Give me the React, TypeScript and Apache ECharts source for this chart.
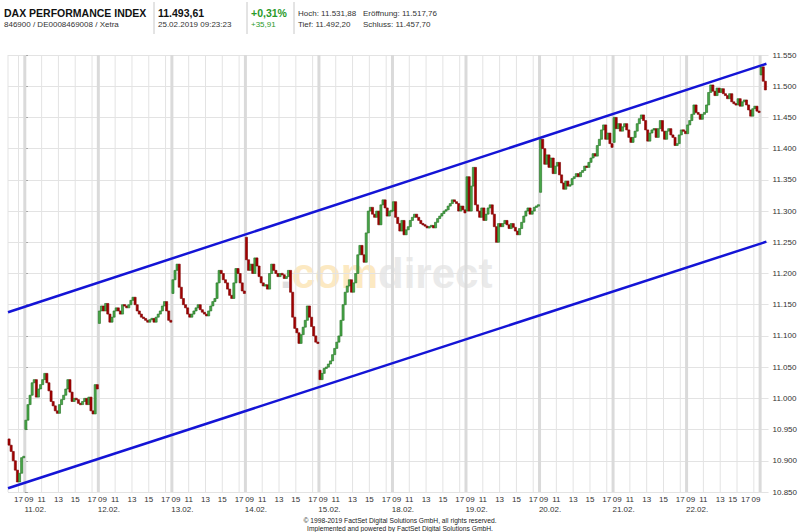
import React, { useEffect, useRef } from 'react';
import * as echarts from 'echarts';

const FONT = '"Liberation Sans", Arial, Helvetica, sans-serif';

// ---- axis setup (x in trading hours counted from 11.02. 09:00; one session slot = 09:00–17:45) ----
const DAY_LENGTH = 8.75;
const BAR_HOURS = 0.25;
const X_MIN = -2;
const X_MAX = 88.5;
const Y_MIN = 10850;
const Y_MAX = 11550;
const Y_STEP = 50;

const DAY_NAMES = ['08.02.', '11.02.', '12.02.', '13.02.', '14.02.', '15.02.', '18.02.', '19.02.', '20.02.', '21.02.', '22.02.', '25.02.'];
const DAY_STARTS = DAY_NAMES.map((_, i) => (i - 1) * DAY_LENGTH);
const HOUR_LABELS = ['09', '11', '13', '15', '17'];
const HOUR_LABEL_OFFSETS = [0.5, 2, 4, 6, 8];
const HOUR_GRID_OFFSETS = [2, 4, 6, 8];
const DATE_LABEL_OFFSET = 1.25;
const LABEL_LIMIT = 84;
const TAIL_LABELS: [number, string][] = [[84.25, '15'], [85.75, '17'], [87, '09']];

// ---- 15-minute price path per session (first value = open) ----
const P_0802 = [10935, 10925, 10915, 10900, 10885, 10866, 10880, 10905, 10907];
const P_1102 = [10950, 10965, 10990, 11005, 11025, 11030, 11002, 11015, 11022, 11030, 11040, 11025, 11012, 10995, 10988, 10980, 10976, 10990, 10998, 11005, 11015, 11030, 11010, 10995, 11000, 10998, 10992, 10990, 10995, 11000, 10990, 11002, 10980, 10975, 11022, 11015];
const P_1202 = [11120, 11140, 11148, 11140, 11152, 11135, 11122, 11130, 11140, 11145, 11140, 11135, 11150, 11148, 11145, 11150, 11157, 11162, 11150, 11140, 11135, 11130, 11128, 11125, 11122, 11126, 11128, 11122, 11130, 11135, 11140, 11148, 11155, 11140, 11125, 11122];
const P_1302 = [11168, 11190, 11205, 11215, 11178, 11160, 11150, 11145, 11135, 11130, 11135, 11140, 11145, 11150, 11142, 11138, 11135, 11132, 11140, 11148, 11155, 11160, 11185, 11205, 11200, 11190, 11185, 11175, 11165, 11160, 11185, 11208, 11200, 11185, 11172, 11168];
const P_1402 = [11258, 11222, 11205, 11215, 11200, 11225, 11212, 11195, 11185, 11180, 11182, 11175, 11200, 11215, 11205, 11200, 11195, 11200, 11198, 11192, 11195, 11205, 11170, 11130, 11112, 11105, 11088, 11102, 11114, 11125, 11148, 11130, 11115, 11100, 11090, 11088];
const P_1502 = [11045, 11030, 11040, 11048, 11050, 11055, 11060, 11070, 11080, 11090, 11100, 11125, 11150, 11170, 11180, 11190, 11170, 11185, 11200, 11230, 11245, 11230, 11218, 11265, 11300, 11306, 11295, 11290, 11300, 11278, 11310, 11318, 11305, 11292, 11300, 11300];
const P_1802 = [11300, 11315, 11290, 11280, 11268, 11285, 11262, 11270, 11275, 11285, 11290, 11295, 11290, 11285, 11280, 11278, 11276, 11273, 11275, 11277, 11273, 11282, 11288, 11292, 11296, 11300, 11302, 11308, 11312, 11318, 11315, 11312, 11300, 11308, 11302, 11297];
const P_1902 = [11300, 11355, 11300, 11340, 11370, 11310, 11300, 11290, 11305, 11285, 11295, 11305, 11310, 11295, 11275, 11250, 11280, 11275, 11280, 11285, 11278, 11272, 11280, 11274, 11268, 11262, 11272, 11282, 11292, 11300, 11305, 11295, 11300, 11306, 11308, 11310];
const P_2002 = [11330, 11415, 11400, 11375, 11390, 11370, 11385, 11360, 11372, 11378, 11358, 11345, 11335, 11348, 11340, 11342, 11352, 11355, 11360, 11355, 11362, 11365, 11372, 11370, 11378, 11385, 11392, 11388, 11405, 11415, 11430, 11438, 11415, 11425, 11408, 11402];
const P_2102 = [11410, 11450, 11432, 11440, 11428, 11435, 11440, 11430, 11418, 11410, 11418, 11428, 11440, 11448, 11454, 11445, 11430, 11412, 11425, 11430, 11432, 11418, 11432, 11445, 11428, 11415, 11428, 11432, 11422, 11418, 11405, 11408, 11422, 11430, 11428, 11424];
const P_2202 = [11424, 11438, 11445, 11455, 11470, 11458, 11455, 11447, 11455, 11458, 11470, 11490, 11502, 11492, 11485, 11497, 11490, 11496, 11488, 11485, 11480, 11488, 11475, 11472, 11470, 11480, 11468, 11475, 11478, 11470, 11462, 11452, 11464, 11468, 11460, 11458];
const P_2502 = [11518, 11531, 11508, 11494];

const SEGMENT_STARTS = [-2, 0, 8.75, 17.5, 26.25, 35, 43.75, 52.5, 61.25, 70, 78.75, 87.5];
const SEGMENTS = [P_0802, P_1102, P_1202, P_1302, P_1402, P_1502, P_1802, P_1902, P_2002, P_2102, P_2202, P_2502];

// ---- trend channel ----
const TREND_UPPER = [[-2, 11138], [88.25, 11536]];
const TREND_LOWER = [[-2, 10856], [88.25, 11251]];

// ---- header ----
const TITLE = 'DAX PERFORMANCE INDEX';
const SUBTITLE = '846900 / DE0008469008 / Xetra';
const LAST = '11.493,61';
const TIMESTAMP = '25.02.2019 09:23:23';
const CHANGE_PCT = '+0,31%';
const CHANGE_ABS = '+35,91';
const HIGH = 'Hoch: 11.531,88';
const OPEN = 'Eröffnung: 11.517,76';
const LOW = 'Tief: 11.492,20';
const CLOSE = 'Schluss: 11.457,70';
const FOOTER_1 = '© 1998-2019 FactSet Digital Solutions GmbH, all rights reserved.';
const FOOTER_2 = 'Implemented and powered by FactSet Digital Solutions GmbH.';

const key = (v: number) => Math.round(v * 4);

function buildHourLabels() {
  const m = new Map<number, string>();
  DAY_STARTS.forEach((d) => {
    HOUR_LABEL_OFFSETS.forEach((o, j) => {
      const p = d + o;
      if (p >= X_MIN && p <= LABEL_LIMIT) m.set(key(p), HOUR_LABELS[j]);
    });
  });
  TAIL_LABELS.forEach(([p, s]) => m.set(key(p), s));
  return m;
}
function buildDateLabels() {
  const m = new Map<number, string>();
  DAY_STARTS.forEach((d, i) => {
    const p = d + DATE_LABEL_OFFSET;
    if (p >= X_MIN && p <= LABEL_LIMIT) m.set(key(p), DAY_NAMES[i]);
  });
  return m;
}

function buildBars() {
  const bars: number[][] = [];
  SEGMENTS.forEach((vals, s) => {
    for (let k = 1; k < vals.length; k++) {
      bars.push([SEGMENT_STARTS[s] + (k - 0.5) * BAR_HOURS, vals[k - 1], vals[k]]);
    }
  });
  return bars;
}

function buildGridLines() {
  const lines: number[][] = [[X_MIN, 0]];
  DAY_STARTS.forEach((d, i) => {
    if (i > 0 && d >= X_MIN && d <= X_MAX) lines.push([d, 1]);
    HOUR_GRID_OFFSETS.forEach((o) => {
      const p = d + o;
      if (p > X_MIN && p < X_MAX) lines.push([p, 0]);
    });
  });
  return lines;
}

const fmtPts = (v: number) => String(Math.round(v)).replace(/\B(?=(\d{3})+(?!\d))/g, '.');

export default function App() {
  const ref = useRef<HTMLDivElement>(null);
  useEffect(() => {
    document.body.style.margin = '0';
    const chart = echarts.init(ref.current!, undefined, { renderer: 'svg' });
    const hourLabels = buildHourLabels();
    const dateLabels = buildDateLabels();
    const txt = (x: number, y: number, text: string, font: string, fill = '#222', align = 'left') => ({
      type: 'text', x, y, z: 10,
      style: { text, font, fill, align, verticalAlign: 'middle' },
    });
    const sep = (x: number) => ({
      type: 'line', z: 10, shape: { x1: x, y1: 2, x2: x, y2: 34 }, style: { stroke: '#c8c8c8', lineWidth: 1 },
    });
    const baseX = {
      type: 'value', min: X_MIN, max: X_MAX, interval: BAR_HOURS, position: 'bottom',
      axisLine: { show: false }, axisTick: { show: false }, splitLine: { show: false },
    };
    chart.setOption({
      animation: false,
      backgroundColor: '#ffffff',
      textStyle: { fontFamily: FONT },
      grid: { left: 8, right: 31, top: 55, bottom: 40 },
      xAxis: [
        { ...baseX, axisLabel: { fontSize: 8, color: '#333', margin: 3, fontFamily: FONT, formatter: (v: number) => hourLabels.get(key(v)) || '' } },
        { ...baseX, offset: 10, axisLabel: { fontSize: 8, color: '#333', margin: 3, fontFamily: FONT, formatter: (v: number) => dateLabels.get(key(v)) || '' } },
      ],
      yAxis: {
        type: 'value', position: 'right', min: Y_MIN, max: Y_MAX, interval: Y_STEP,
        axisLine: { show: false },
        axisTick: { show: true, length: 3, lineStyle: { color: '#999' } },
        axisLabel: { fontSize: 8, color: '#333', margin: 4, fontFamily: FONT, formatter: fmtPts },
        splitLine: { lineStyle: { color: '#e3e3e3', width: 1 } },
      },
      graphic: [
        {
          type: 'text', x: 280, y: 273, z: 0,
          style: {
            text: '{d|.}{c|com}{r|direct}', verticalAlign: 'middle',
            rich: {
              d: { font: `bold 42px ${FONT}`, fill: '#dedede' },
              c: { font: `bold 42px ${FONT}`, fill: '#fce9c2' },
              r: { font: `bold 42px ${FONT}`, fill: '#eaeaea' },
            },
          },
        },
        txt(4, 12.5, TITLE, `bold 10.5px ${FONT}`, '#111'),
        txt(4, 24.5, SUBTITLE, `8px ${FONT}`, '#333'),
        sep(154),
        txt(158, 12.5, LAST, `bold 10.5px ${FONT}`, '#111'),
        txt(158, 24.5, TIMESTAMP, `8px ${FONT}`, '#333'),
        sep(247),
        txt(251, 12.5, CHANGE_PCT, `bold 10.5px ${FONT}`, '#2a9a2a'),
        txt(251, 24.5, CHANGE_ABS, `8px ${FONT}`, '#2a9a2a'),
        sep(294),
        txt(298, 13, HIGH, `8px ${FONT}`, '#333'),
        txt(363, 13, OPEN, `8px ${FONT}`, '#333'),
        txt(298, 24.5, LOW, `8px ${FONT}`, '#333'),
        txt(363, 24.5, CLOSE, `8px ${FONT}`, '#333'),
        txt(400, 520.5, FOOTER_1, `6.7px ${FONT}`, '#222', 'center'),
        txt(400, 528.5, FOOTER_2, `6.7px ${FONT}`, '#222', 'center'),
      ],
      series: [
        {
          type: 'custom', z: 1, silent: true,
          data: buildGridLines(),
          encode: { x: 0 },
          renderItem: (_p: any, api: any) => {
            const t = api.value(0);
            const thick = api.value(1) === 1;
            const a = api.coord([t, Y_MIN]);
            const b = api.coord([t, Y_MAX]);
            return {
              type: 'line',
              shape: { x1: a[0], y1: a[1], x2: b[0], y2: b[1] },
              style: { stroke: thick ? '#dadada' : '#e3e3e3', lineWidth: thick ? 3 : 1 },
            };
          },
        },
        {
          type: 'custom', z: 3, silent: true,
          data: buildBars(),
          encode: { x: 0, y: [1, 2] },
          renderItem: (_p: any, api: any) => {
            const t = api.value(0);
            const o = api.value(1);
            const c = api.value(2);
            const a = api.coord([t - BAR_HOURS / 2, o]);
            const b = api.coord([t + BAR_HOURS / 2, c]);
            const up = c >= o;
            let top = Math.min(a[1], b[1]);
            let h = Math.abs(a[1] - b[1]);
            if (h < 1.5) { top -= (1.5 - h) / 2; h = 1.5; }
            return {
              type: 'rect',
              shape: { x: a[0], y: top, width: b[0] - a[0], height: h },
              style: { fill: up ? '#4aa84a' : '#a40000', stroke: up ? '#1f6f1f' : '#7a0000', lineWidth: 0.6 },
            };
          },
        },
        {
          type: 'line', z: 4, data: TREND_UPPER, symbol: 'none', silent: true,
          lineStyle: { color: '#1414d6', width: 2.5 },
        },
        {
          type: 'line', z: 4, data: TREND_LOWER, symbol: 'none', silent: true,
          lineStyle: { color: '#1414d6', width: 2.5 },
        },
      ],
    });
    return () => chart.dispose();
  }, []);
  return <div ref={ref} style={{ position: 'fixed', left: 0, top: 0, width: 800, height: 532, background: '#fff' }} />;
}
